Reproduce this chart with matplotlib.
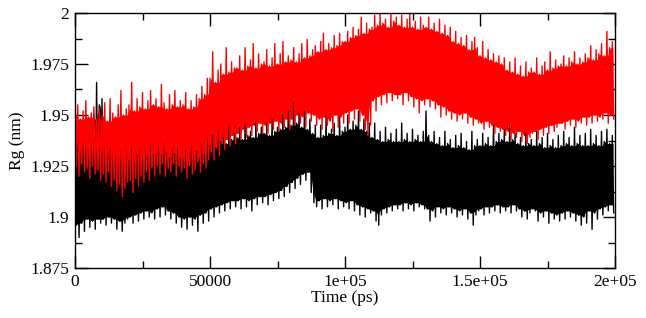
import numpy as np
import matplotlib
matplotlib.use("Agg")
import matplotlib.pyplot as plt
from matplotlib.ticker import MultipleLocator

plt.rcParams['font.family'] = ['Liberation Serif', 'DejaVu Serif']

# ---- data ----
# each 1000 ps bin: local peak (at bin start) and local trough (500 ps later)
bin_start_ps = list(range(0, 200000, 1000))

red_hi = [
    1.950,1.955,1.948,1.952,1.957,1.949,1.951,1.954,1.948,1.953,
    1.950,1.956,1.947,1.958,1.951,1.949,1.955,1.962,1.950,1.953,
    1.955,1.966,1.952,1.958,1.954,1.961,1.953,1.957,1.962,1.955,
    1.958,1.954,1.965,1.956,1.953,1.960,1.955,1.962,1.954,1.957,
    1.955,1.961,1.953,1.957,1.954,1.960,1.958,1.964,1.960,1.968,
    1.968,1.981,1.966,1.972,1.975,1.970,1.983,1.971,1.976,1.973,
    1.973,1.979,1.972,1.983,1.974,1.977,1.985,1.973,1.980,1.975,
    1.976,1.982,1.974,1.978,1.985,1.975,1.980,1.986,1.976,1.979,
    1.977,1.983,1.976,1.980,1.985,1.978,1.987,1.979,1.982,1.984,
    1.981,1.986,1.990,1.982,1.985,1.983,1.989,1.984,1.990,1.986,
    1.986,1.991,1.988,1.993,1.989,1.992,1.998,1.990,1.995,1.992,
    1.993,1.999,1.994,2.000,1.995,1.997,1.993,2.000,1.996,1.998,
    1.994,1.999,1.993,1.997,2.000,1.993,1.996,1.992,1.998,1.994,
    1.993,1.998,1.992,1.995,1.991,1.997,1.990,1.994,1.989,1.993,
    1.986,1.991,1.985,1.988,1.984,1.989,1.982,1.986,1.988,1.983,
    1.979,1.986,1.978,1.982,1.977,1.980,1.976,1.979,1.975,1.978,
    1.972,1.976,1.971,1.978,1.970,1.974,1.969,1.976,1.971,1.973,
    1.971,1.978,1.970,1.974,1.976,1.972,1.981,1.973,1.977,1.974,
    1.975,1.979,1.974,1.978,1.976,1.981,1.975,1.978,1.976,1.980,
    1.978,1.984,1.977,1.982,1.980,1.985,1.979,1.991,1.983,1.986]
red_lo = [
    1.925,1.920,1.926,1.922,1.924,1.919,1.925,1.921,1.923,1.918,
    1.921,1.917,1.922,1.915,1.918,1.913,1.916,1.910,1.914,1.917,
    1.918,1.912,1.919,1.915,1.920,1.917,1.922,1.918,1.924,1.920,
    1.925,1.921,1.926,1.920,1.924,1.922,1.926,1.920,1.925,1.922,
    1.924,1.919,1.925,1.921,1.923,1.927,1.922,1.926,1.924,1.928,
    1.932,1.928,1.934,1.930,1.936,1.933,1.938,1.935,1.940,1.936,
    1.941,1.938,1.943,1.939,1.944,1.940,1.945,1.942,1.946,1.941,
    1.945,1.941,1.946,1.943,1.947,1.942,1.946,1.944,1.948,1.943,
    1.948,1.945,1.950,1.946,1.949,1.944,1.951,1.947,1.950,1.945,
    1.948,1.943,1.949,1.945,1.947,1.942,1.950,1.944,1.949,1.946,
    1.951,1.946,1.952,1.948,1.953,1.947,1.950,1.943,1.940,1.945,
    1.957,1.952,1.959,1.955,1.960,1.956,1.961,1.957,1.960,1.958,
    1.960,1.955,1.961,1.957,1.959,1.954,1.958,1.951,1.957,1.955,
    1.958,1.954,1.957,1.953,1.955,1.949,1.954,1.950,1.952,1.948,
    1.951,1.947,1.950,1.948,1.951,1.946,1.949,1.945,1.948,1.946,
    1.946,1.943,1.947,1.944,1.945,1.941,1.944,1.942,1.943,1.940,
    1.942,1.938,1.941,1.939,1.942,1.937,1.940,1.936,1.939,1.941,
    1.942,1.938,1.943,1.940,1.944,1.941,1.945,1.942,1.944,1.946,
    1.946,1.943,1.947,1.945,1.948,1.944,1.947,1.946,1.949,1.945,
    1.949,1.946,1.950,1.947,1.949,1.948,1.951,1.946,1.950,1.948]

black_hi = [
    1.933,1.940,1.932,1.945,1.936,1.941,1.938,1.950,1.966,1.955,
    1.958,1.944,1.935,1.940,1.931,1.936,1.928,1.934,1.929,1.932,
    1.928,1.934,1.927,1.931,1.937,1.929,1.933,1.930,1.936,1.931,
    1.931,1.936,1.930,1.938,1.932,1.929,1.935,1.931,1.934,1.929,
    1.928,1.933,1.927,1.935,1.930,1.932,1.929,1.936,1.931,1.938,
    1.935,1.940,1.934,1.942,1.937,1.939,1.936,1.945,1.938,1.941,
    1.939,1.944,1.938,1.946,1.940,1.942,1.939,1.947,1.941,1.944,
    1.941,1.946,1.940,1.948,1.942,1.944,1.943,1.950,1.944,1.952,
    1.945,1.956,1.946,1.951,1.944,1.952,1.943,1.948,1.941,1.945,
    1.939,1.945,1.940,1.949,1.941,1.943,1.946,1.940,1.949,1.942,
    1.944,1.950,1.943,1.947,1.945,1.952,1.943,1.948,1.942,1.946,
    1.939,1.946,1.938,1.942,1.937,1.944,1.938,1.941,1.937,1.943,
    1.937,1.946,1.938,1.941,1.937,1.943,1.938,1.940,1.937,1.942,
    1.952,1.940,1.937,1.942,1.936,1.939,1.935,1.942,1.936,1.938,
    1.934,1.940,1.935,1.941,1.934,1.937,1.933,1.942,1.935,1.938,
    1.935,1.941,1.936,1.939,1.935,1.945,1.937,1.941,1.938,1.943,
    1.937,1.945,1.938,1.941,1.936,1.939,1.935,1.941,1.936,1.938,
    1.935,1.942,1.936,1.939,1.934,1.941,1.935,1.938,1.934,1.940,
    1.935,1.942,1.936,1.939,1.935,1.944,1.936,1.940,1.935,1.941,
    1.935,1.943,1.936,1.940,1.935,1.942,1.937,1.943,1.936,1.940]
black_lo = [
    1.896,1.890,1.897,1.893,1.899,1.895,1.898,1.894,1.899,1.897,
    1.899,1.896,1.900,1.897,1.899,1.894,1.898,1.893,1.897,1.899,
    1.900,1.897,1.901,1.898,1.902,1.899,1.903,1.900,1.902,1.899,
    1.904,1.900,1.905,1.901,1.903,1.899,1.902,1.897,1.900,1.895,
    1.899,1.894,1.900,1.896,1.899,1.893,1.901,1.897,1.902,1.898,
    1.904,1.900,1.905,1.902,1.906,1.903,1.907,1.904,1.908,1.905,
    1.908,1.904,1.909,1.905,1.908,1.903,1.909,1.906,1.910,1.907,
    1.910,1.906,1.911,1.908,1.912,1.909,1.913,1.910,1.915,1.912,
    1.917,1.914,1.919,1.916,1.921,1.918,1.922,1.912,1.907,1.905,
    1.908,1.904,1.909,1.905,1.908,1.906,1.909,1.904,1.908,1.905,
    1.907,1.904,1.908,1.903,1.906,1.901,1.905,1.900,1.904,1.902,
    1.903,1.898,1.896,1.901,1.904,1.902,1.905,1.903,1.906,1.904,
    1.906,1.903,1.907,1.904,1.906,1.903,1.907,1.905,1.906,1.904,
    1.904,1.898,1.903,1.900,1.905,1.902,1.904,1.901,1.905,1.902,
    1.904,1.900,1.903,1.901,1.904,1.899,1.902,1.896,1.901,1.903,
    1.904,1.901,1.905,1.902,1.905,1.903,1.906,1.902,1.905,1.903,
    1.905,1.902,1.906,1.903,1.904,1.900,1.903,1.899,1.902,1.904,
    1.903,1.898,1.902,1.900,1.903,1.897,1.902,1.899,1.901,1.898,
    1.902,1.899,1.903,1.900,1.902,1.898,1.901,1.896,1.900,1.897,
    1.903,1.894,1.902,1.899,1.904,1.901,1.905,1.903,1.906,1.902]

x_ticks = [0, 50000, 100000, 150000, 200000]
x_ticklabels = ['0', '50000', '1e+05', '1.5e+05', '2e+05']
y_ticks = [1.875, 1.9, 1.925, 1.95, 1.975, 2.0]
y_ticklabels = ['1.875', '1.9', '1.925', '1.95', '1.975', '2']


def trace(starts, hi, lo):
    t, v = [], []
    for s, h, l in zip(starts, hi, lo):
        t += [s, s + 500]
        v += [h, l]
    return np.array(t), np.array(v)


def solid_band(hi, lo):
    # region that the dense trace crosses in every neighbouring bin
    h = np.array(hi)
    l = np.array(lo)
    hp = np.concatenate([[h[0]], h, [h[-1]]])
    lp = np.concatenate([[l[0]], l, [l[-1]]])
    top = np.minimum(np.minimum(hp[:-2], hp[1:-1]), hp[2:])
    bot = np.maximum(np.maximum(lp[:-2], lp[1:-1]), lp[2:])
    return top, bot


fig = plt.figure(figsize=(6.46, 3.18), dpi=100)
ax = fig.add_axes([75/646, 50/318, 540/646, 255/318])

for col, hi, lo in [('black', black_hi, black_lo), ('#ff0000', red_hi, red_lo)]:
    top, bot = solid_band(hi, lo)
    tb = np.array(bin_start_ps) + 250
    ax.fill_between(tb, bot, top, where=top > bot, color=col, linewidth=0)
    t, v = trace(bin_start_ps, hi, lo)
    ax.plot(t, v, color=col, lw=1.0)

ax.set_xlim(0, 200000)
ax.set_ylim(1.875, 2.0)
ax.set_xticks(x_ticks)
ax.set_xticklabels(x_ticklabels)
ax.set_yticks(y_ticks)
ax.set_yticklabels(y_ticklabels)
ax.xaxis.set_minor_locator(MultipleLocator(25000))
ax.yaxis.set_minor_locator(MultipleLocator(0.0125))
ax.tick_params(which='both', direction='in', top=True, right=True, labelsize=12.5, width=1.0)
ax.tick_params(which='major', length=9, pad=4)
ax.tick_params(which='minor', length=5)
for sp in ax.spines.values():
    sp.set_linewidth(1.0)

ax.set_xlabel('Time (ps)', fontsize=12.5, labelpad=0)
ax.set_ylabel('Rg (nm)', fontsize=12.5, labelpad=4)

fig.savefig('out.png', dpi=100)
